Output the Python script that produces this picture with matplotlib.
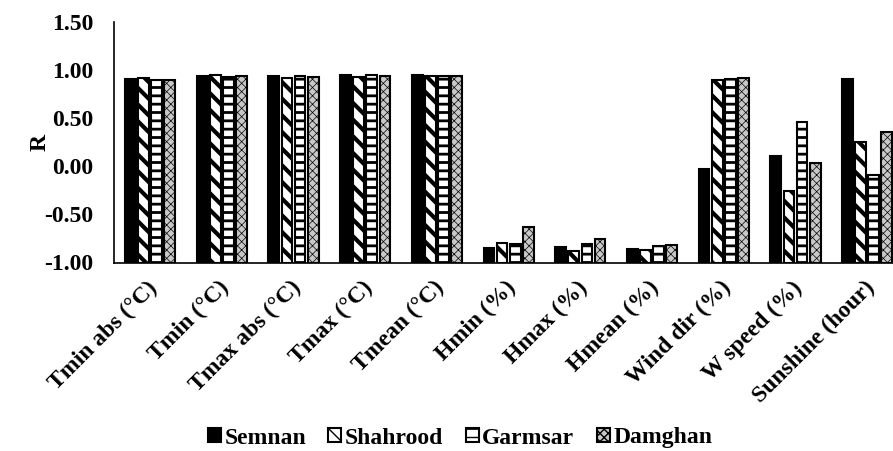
import numpy as np
import matplotlib
matplotlib.use("Agg")
from matplotlib import pyplot as plt
import matplotlib.transforms as mtransforms

plt.rcParams['font.family'] = ['Liberation Serif', 'DejaVu Serif']
plt.rcParams['font.weight'] = 'bold'

# correlation coefficient R per variable and station
categories = ['Tmin abs (°C)', 'Tmin (°C)', 'Tmax abs (°C)', 'Tmax (°C)', 'Tmean (°C)',
              'Hmin (%)', 'Hmax (%)', 'Hmean (%)', 'Wind dir (%)', 'W speed (%)',
              'Sunshine (hour)']
semnan = [0.91, 0.94, 0.94, 0.95, 0.95, -0.85, -0.84, -0.86, -0.03, 0.11, 0.91]
shahrood = [0.92, 0.95, 0.92, 0.93, 0.94, -0.80, -0.88, -0.87, 0.90, -0.26, 0.25]
garmsar = [0.90, 0.93, 0.94, 0.95, 0.94, -0.81, -0.81, -0.83, 0.91, 0.46, -0.09]
damghan = [0.90, 0.94, 0.93, 0.94, 0.94, -0.63, -0.76, -0.82, 0.92, 0.03, 0.36]
stations = ['Semnan', 'Shahrood', 'Garmsar', 'Damghan']
yticks = [-1.0, -0.5, 0.0, 0.5, 1.0, 1.5]

W, H = 893, 451
fs = 17
fig = plt.figure(figsize=(W / 100, H / 100), dpi=100)
left, right, top, bottom = 114.3, 893, 22, 262.5
ax = fig.add_axes([left / W, 1 - bottom / H, (right - left) / W, (bottom - top) / H])

x = np.arange(len(categories))
step = 0.183
width = 0.15
base = -1.0

styles = [
    dict(facecolor='black', edgecolor='black', hatch=None, hlw=1.0),
    dict(facecolor='white', edgecolor='black', hatch='\\\\', hlw=3.0),
    dict(facecolor='white', edgecolor='black', hatch='--', hlw=2.0),
    dict(facecolor='#c8c8c8', edgecolor='black', hatch='xxxx', hlw=0.5),
]

handles = []
for i, (vals, st) in enumerate(zip([semnan, shahrood, garmsar, damghan], styles)):
    vals = np.array(vals)
    bars = ax.bar(x + (i - 1.5) * step, vals - base, width, bottom=base,
                  facecolor=st['facecolor'], edgecolor=st['edgecolor'],
                  hatch=st['hatch'], linewidth=1.5, label=stations[i])
    for p in bars:
        try:
            p.set_hatch_linewidth(st['hlw'])
        except AttributeError:
            pass
    handles.append(bars)

ax.set_xlim(-0.5, 10.5 - 10 / 71.6)
ax.set_ylim(-1.0, 1.5)
ax.set_yticks(yticks)
ax.set_yticklabels([f'{v:.2f}' for v in yticks], fontsize=fs, fontweight='bold')
ax.set_xticks(x)
ax.set_xticklabels(categories, rotation=45, ha='right', va='center',
                   rotation_mode='anchor', fontsize=fs, fontweight='bold')
ax.tick_params(axis='y', length=0, pad=15)
ax.tick_params(axis='x', length=0, pad=16)
shift = mtransforms.ScaledTranslation(4 / 100, 0, fig.dpi_scale_trans)
for lab in ax.get_xticklabels():
    lab.set_transform(lab.get_transform() + shift)
for s in ['top', 'right']:
    ax.spines[s].set_visible(False)
for s in ['left', 'bottom']:
    ax.spines[s].set_linewidth(1.2)

fig.text(40 / W, 1 - 142 / H, 'R', rotation=90, ha='center', va='center',
         fontsize=fs, fontweight='bold')

leg = fig.legend(handles=handles, labels=stations, loc='center',
                 bbox_to_anchor=(460 / W, 1 - 438 / H), ncol=4, frameon=False,
                 fontsize=fs, handlelength=0.55, handleheight=0.55,
                 handletextpad=0.15, columnspacing=0.95)
for t in leg.get_texts():
    t.set_fontweight('bold')

fig.savefig('out.png', dpi=100)
